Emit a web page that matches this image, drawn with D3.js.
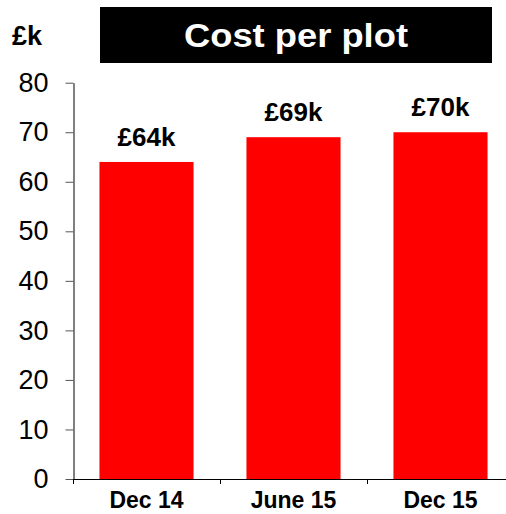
<!DOCTYPE html>
<html>
<head>
<meta charset="utf-8">
<script src="https://cdn.jsdelivr.net/npm/d3@7"></script>
<style>
  html, body { margin: 0; padding: 0; background: #fff; }
  svg { display: block; font-family: "Liberation Sans", Arial, sans-serif; }
</style>
</head>
<body>
<svg id="chart" width="506" height="514"></svg>
<script>
// Cost per plot, £k
const periods = ["Dec 14", "June 15", "Dec 15"];
const costs = [64, 69, 70];
const valueLabels = ["£64k", "£69k", "£70k"];
const yTicks = [0, 10, 20, 30, 40, 50, 60, 70, 80];
const chartTitle = "Cost per plot";
const unitLabel = "£k";

const svg = d3.select("#chart");

const x = d3.scaleBand()
  .domain(periods)
  .range([73, 514])
  .paddingInner(0.36)
  .paddingOuter(0.18);

const y = d3.scaleLinear()
  .domain([0, 80])
  .range([479, 82.7]);

// Title banner
svg.append("rect")
  .attr("x", 100).attr("y", 7)
  .attr("width", 392).attr("height", 56)
  .attr("fill", "#000");
svg.append("text")
  .attr("x", 296).attr("y", 47)
  .attr("text-anchor", "middle")
  .attr("fill", "#fff")
  .attr("font-weight", "bold")
  .attr("font-size", 33)
  .attr("textLength", 224)
  .attr("lengthAdjust", "spacingAndGlyphs")
  .text(chartTitle);

// Unit label
svg.append("text")
  .attr("x", 12).attr("y", 45)
  .attr("font-weight", "bold")
  .attr("font-size", 27)
  .attr("fill", "#000")
  .text(unitLabel);

// Bars
svg.selectAll("rect.bar")
  .data(costs)
  .join("rect")
  .attr("class", "bar")
  .attr("x", (d, i) => x(periods[i]))
  .attr("y", d => y(d))
  .attr("width", x.bandwidth())
  .attr("height", d => y(0) - y(d))
  .attr("fill", "#ff0000");

// Value labels
svg.selectAll("text.val")
  .data(costs)
  .join("text")
  .attr("class", "val")
  .attr("x", (d, i) => x(periods[i]) + x.bandwidth() / 2)
  .attr("y", d => y(d) - 16)
  .attr("text-anchor", "middle")
  .attr("font-weight", "bold")
  .attr("font-size", 26)
  .attr("fill", "#000")
  .text((d, i) => valueLabels[i]);

// Y axis
const yAxis = d3.axisLeft(y)
  .tickValues(yTicks)
  .tickSize(8)
  .tickPadding(17)
  .tickSizeOuter(0);
const yg = svg.append("g")
  .attr("transform", "translate(73.5,0)")
  .call(yAxis);
yg.select(".domain").attr("stroke", "#000").attr("stroke-width", 1);
yg.selectAll(".tick line").attr("stroke", "#555");
yg.selectAll(".tick text")
  .attr("font-size", 27)
  .attr("fill", "#000")
  .attr("font-family", "Liberation Sans, Arial, sans-serif");

// X axis line and category separators
const step = x.step();
const gap = step * x.paddingInner() / 2;
svg.append("line")
  .attr("x1", 73).attr("x2", 506)
  .attr("y1", y(0) + 0.5).attr("y2", y(0) + 0.5)
  .attr("stroke", "#000");
svg.selectAll("line.sep")
  .data(periods)
  .join("line")
  .attr("class", "sep")
  .attr("x1", d => Math.round(x(d) - gap) + 0.5)
  .attr("x2", d => Math.round(x(d) - gap) + 0.5)
  .attr("y1", y(0)).attr("y2", y(0) + 5)
  .attr("stroke", "#000");

// Category labels
svg.selectAll("text.cat")
  .data(periods)
  .join("text")
  .attr("class", "cat")
  .attr("x", d => x(d) + x.bandwidth() / 2)
  .attr("y", 508)
  .attr("text-anchor", "middle")
  .attr("font-weight", "bold")
  .attr("font-size", 23)
  .attr("fill", "#000")
  .text(d => d);
</script>
</body>
</html>
